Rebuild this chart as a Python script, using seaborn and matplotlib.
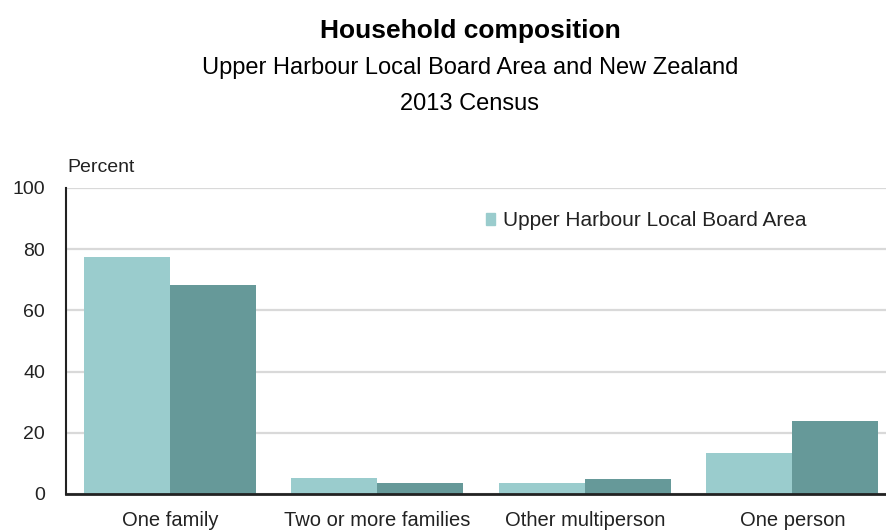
#!/usr/bin/env python3
"""Household composition bar chart, Upper Harbour vs New Zealand (2013 Census)."""
import pandas as pd
import matplotlib
matplotlib.use("Agg")
import matplotlib.pyplot as plt
from matplotlib.patches import Patch
import seaborn as sns

categories = ["One family", "Two or more families", "Other multiperson", "One person"]
upper_harbour = [77.4, 5.3, 3.5, 13.3]
new_zealand = [68.3, 3.5, 4.8, 23.8]
series_names = ["Upper Harbour Local Board Area", "New Zealand"]
y_ticks = [0, 20, 40, 60, 80, 100]

LIGHT = "#9acccd"
DARK = "#669999"

df = pd.DataFrame({
    "category": categories * 2,
    "area": [series_names[0]] * 4 + [series_names[1]] * 4,
    "percent": upper_harbour + new_zealand,
})

sns.set_theme(style="white")
plt.rcParams["font.family"] = ["Liberation Sans", "DejaVu Sans"]

fig = plt.figure(figsize=(8.86, 5.31), dpi=100)
# axes runs past the right edge like in the cropped original
ax = fig.add_axes([66 / 886, 37 / 531, 830 / 886, 306 / 531])

sns.barplot(
    data=df, x="category", y="percent", hue="area",
    hue_order=series_names, order=categories,
    palette=[LIGHT, DARK], saturation=1, width=0.83, linewidth=0,
    legend=False, ax=ax, zorder=3,
)

ax.set_xlim(-0.5, 3.5)
ax.set_ylim(0, 100)
ax.set_yticks(y_ticks)
ax.set_xlabel("")
ax.set_ylabel("")
ax.grid(axis="y", color="#d9d9d9", linewidth=1.6, zorder=0)
ax.set_axisbelow(True)
for side in ["top", "right"]:
    ax.spines[side].set_visible(False)
ax.spines["left"].set_color("#222222")
ax.spines["left"].set_linewidth(1.5)
ax.spines["bottom"].set_color("#222222")
ax.spines["bottom"].set_linewidth(2)
ax.spines["bottom"].set_zorder(5)
ax.tick_params(axis="y", length=0, pad=15, labelsize=14, labelcolor="#222222")
ax.tick_params(axis="x", length=0, pad=12, labelsize=14.5, labelcolor="#222222")

ax.legend(
    handles=[Patch(color=LIGHT, label=series_names[0])],
    loc="center left", bbox_to_anchor=(486 / 886, 1 - 221 / 531),
    bbox_transform=fig.transFigure, frameon=False, fontsize=15,
    handlelength=0.45, handleheight=0.45, handletextpad=0.35,
    borderpad=0, borderaxespad=0, labelcolor="#222222",
)

fig.text(67 / 886, 1 - 172 / 531, "Percent", fontsize=14, color="#222222",
         ha="left", va="baseline")
fig.text(470 / 886, 1 - 38 / 531, "Household composition", fontsize=19,
         fontweight="bold", color="black", ha="center", va="baseline")
fig.text(470 / 886, 1 - 74 / 531, "Upper Harbour Local Board Area and New Zealand",
         fontsize=17, color="black", ha="center", va="baseline")
fig.text(470 / 886, 1 - 110 / 531, "2013 Census", fontsize=17, color="black",
         ha="center", va="baseline")

fig.savefig("out.png", dpi=100)
